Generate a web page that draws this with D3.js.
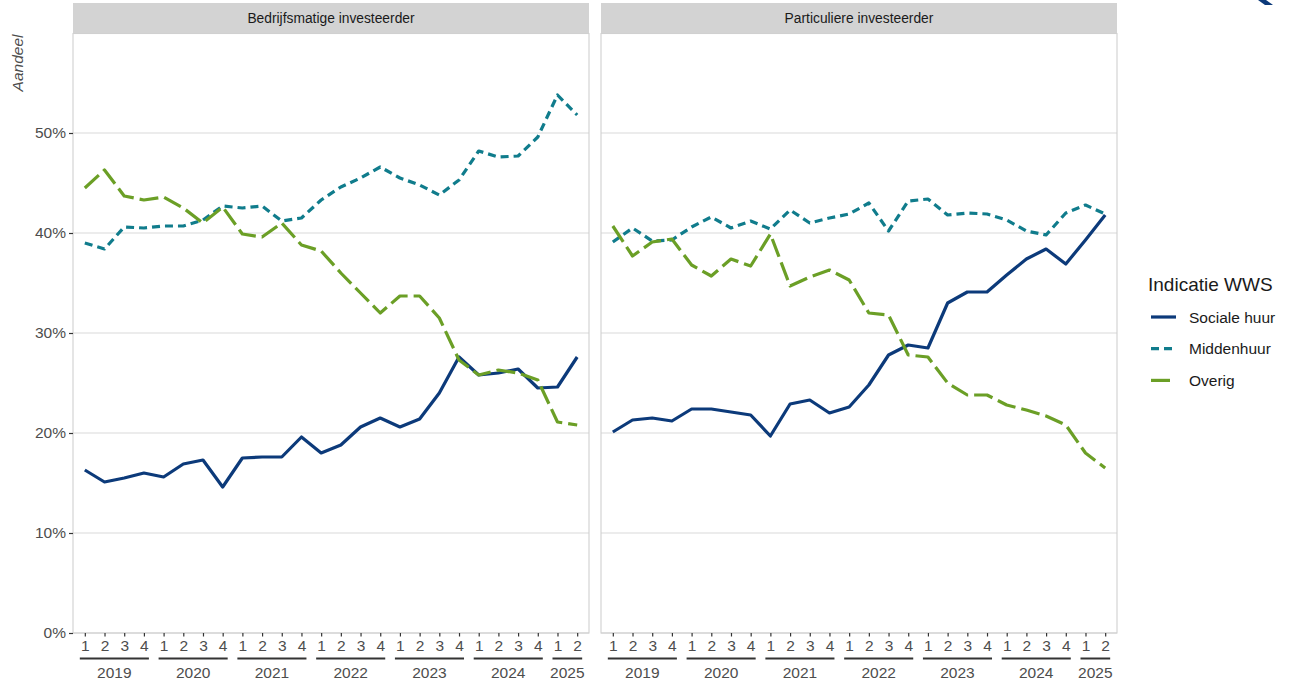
<!DOCTYPE html>
<html>
<head>
<meta charset="utf-8">
<script src="https://cdn.jsdelivr.net/npm/d3@7"></script>
<style>
  html, body { margin: 0; padding: 0; background: #fff; }
  svg { display: block; font-family: "Liberation Sans", Arial, sans-serif; }
</style>
</head>
<body>
<svg id="chart" width="1299" height="690"></svg>
<script>
// kwartalen 2019 Q1 t/m 2025 Q2
const PERIODS = [
  "2019-1", "2019-2", "2019-3", "2019-4",
  "2020-1", "2020-2", "2020-3", "2020-4",
  "2021-1", "2021-2", "2021-3", "2021-4",
  "2022-1", "2022-2", "2022-3", "2022-4",
  "2023-1", "2023-2", "2023-3", "2023-4",
  "2024-1", "2024-2", "2024-3", "2024-4",
  "2025-1", "2025-2"
];
const YEARS = ["2019", "2020", "2021", "2022", "2023", "2024", "2025"];
const PANELS = ["Bedrijfsmatige investeerder", "Particuliere investeerder"];
const SERIES = ["Sociale huur", "Middenhuur", "Overig"];
const Y_TICKS = [0, 0.1, 0.2, 0.3, 0.4, 0.5];

const bedrijfSociaal = [16.3, 15.1, 15.5, 16.0, 15.6, 16.9, 17.3, 14.6, 17.5, 17.6, 17.6, 19.6, 18.0,
  18.8, 20.6, 21.5, 20.6, 21.4, 24.0, 27.6, 25.8, 26.0, 26.4, 24.5, 24.6, 27.6];
const bedrijfMidden = [39.0, 38.4, 40.6, 40.5, 40.7, 40.7, 41.3, 42.7, 42.5, 42.7, 41.2, 41.5, 43.3,
  44.6, 45.5, 46.6, 45.5, 44.8, 43.8, 45.3, 48.2, 47.6, 47.7, 49.6, 53.8, 51.8];
const bedrijfOverig = [44.5, 46.3, 43.7, 43.3, 43.6, 42.5, 41.0, 42.6, 39.9, 39.6, 41.0, 38.8, 38.2,
  36.0, 34.0, 32.0, 33.7, 33.7, 31.5, 27.3, 25.8, 26.3, 26.0, 25.3, 21.1, 20.8];

const partSociaal = [20.1, 21.3, 21.5, 21.2, 22.4, 22.4, 22.1, 21.8, 19.7, 22.9, 23.3, 22.0, 22.6,
  24.8, 27.8, 28.8, 28.5, 33.0, 34.1, 34.1, 35.8, 37.4, 38.4, 36.9, 39.3, 41.8];
const partMidden = [39.1, 40.5, 39.2, 39.3, 40.6, 41.6, 40.5, 41.2, 40.4, 42.3, 41.0, 41.5, 41.9,
  43.0, 40.2, 43.2, 43.4, 41.8, 42.0, 41.9, 41.3, 40.2, 39.8, 42.0, 42.8, 41.9];
const partOverig = [40.7, 37.7, 39.1, 39.4, 36.8, 35.7, 37.4, 36.7, 39.9, 34.7, 35.6, 36.3, 35.3,
  32.0, 31.8, 27.8, 27.6, 25.0, 23.8, 23.8, 22.8, 22.3, 21.7, 20.8, 18.0, 16.5];

const panelData = [
  [bedrijfSociaal, bedrijfMidden, bedrijfOverig],
  [partSociaal, partMidden, partOverig]
];

const STYLE = {
  "Sociale huur": { color: "#0c3a7a", dash: null },
  "Middenhuur":   { color: "#107c8c", dash: "8,5" },
  "Overig":       { color: "#6b9f26", dash: "19,6" }
};

const svg = d3.select("#chart");
const PANEL_X = [[73, 589], [601, 1117]];
const STRIP_TOP = 3, PLOT_TOP = 33.5, PLOT_BOTTOM = 633;
const GRID = "#d9d9d9", AXIS_TEXT = "#4d4d4d";

const y = d3.scaleLinear().domain([0, 0.6]).range([PLOT_BOTTOM, 33]);

PANELS.forEach((name, p) => {
  const [x0, x1] = PANEL_X[p];
  const x = d3.scalePoint().domain(PERIODS).range([x0, x1]).padding(0.6);
  const g = svg.append("g");

  // strip
  g.append("rect")
    .attr("x", x0).attr("y", STRIP_TOP)
    .attr("width", x1 - x0).attr("height", PLOT_TOP - STRIP_TOP)
    .attr("fill", "#d3d3d3");
  g.append("text")
    .attr("x", (x0 + x1) / 2).attr("y", (STRIP_TOP + PLOT_TOP) / 2)
    .attr("text-anchor", "middle").attr("dominant-baseline", "central")
    .attr("font-size", "13.8px").attr("fill", "#1a1a1a")
    .text(name);

  // gridlines
  g.selectAll(".grid").data(Y_TICKS).join("line")
    .attr("x1", x0).attr("x2", x1)
    .attr("y1", d => y(d)).attr("y2", d => y(d))
    .attr("stroke", GRID).attr("stroke-width", 1.1);

  // panel border
  g.append("rect")
    .attr("x", x0).attr("y", PLOT_TOP)
    .attr("width", x1 - x0).attr("height", PLOT_BOTTOM - PLOT_TOP)
    .attr("fill", "none").attr("stroke", "#d0d0d0").attr("stroke-width", 1.1);

  // lines
  const line = d3.line().x((d, i) => x(PERIODS[i])).y(d => y(d / 100));
  SERIES.forEach((s, k) => {
    g.append("path")
      .datum(panelData[p][k])
      .attr("d", line)
      .attr("fill", "none")
      .attr("stroke", STYLE[s].color)
      .attr("stroke-width", 3.2)
      .attr("stroke-linejoin", "round")
      .attr("stroke-dasharray", STYLE[s].dash);
  });

  // x axis: kwartaalnummers
  const xa = g.append("g").attr("transform", `translate(0,${PLOT_BOTTOM})`)
    .call(d3.axisBottom(x).tickSize(3.5).tickPadding(3).tickFormat(d => d.split("-")[1]));
  xa.select(".domain").remove();
  xa.selectAll(".tick line").attr("stroke", "#333").attr("stroke-width", 1.2);
  xa.selectAll(".tick text").attr("fill", AXIS_TEXT).attr("font-size", "15.5px")
    .attr("font-family", "Liberation Sans, Arial, sans-serif");

  // jaargroepen
  YEARS.forEach(yr => {
    const qs = PERIODS.filter(q => q.startsWith(yr));
    const a = x(qs[0]) - 5, b = x(qs[qs.length - 1]) + 5;
    g.append("line")
      .attr("x1", a).attr("x2", b).attr("y1", 658.5).attr("y2", 658.5)
      .attr("stroke", "#333").attr("stroke-width", 2);
    g.append("text")
      .attr("x", (a + b) / 2).attr("y", 672)
      .attr("text-anchor", "middle").attr("dominant-baseline", "central")
      .attr("font-size", "15.5px").attr("fill", AXIS_TEXT)
      .text(yr);
  });

  // y axis alleen links
  if (p === 0) {
    const ya = g.append("g").attr("transform", `translate(${x0},0)`)
      .call(d3.axisLeft(y).tickValues(Y_TICKS).tickSize(4).tickPadding(3).tickFormat(d3.format(".0%")));
    ya.select(".domain").remove();
    ya.selectAll(".tick line").attr("stroke", "#333").attr("stroke-width", 1.2);
    ya.selectAll(".tick text").attr("fill", AXIS_TEXT).attr("font-size", "15.5px")
      .attr("font-family", "Liberation Sans, Arial, sans-serif");
  }
});

// y titel
svg.append("text")
  .attr("transform", "translate(17,63) rotate(-90)")
  .attr("text-anchor", "middle").attr("dominant-baseline", "central")
  .attr("font-size", "15.5px").attr("font-style", "italic").attr("fill", AXIS_TEXT)
  .text("Aandeel");

// legenda
const lg = svg.append("g");
lg.append("text")
  .attr("x", 1148).attr("y", 284)
  .attr("dominant-baseline", "central")
  .attr("font-size", "19px").attr("fill", "#1a1a1a")
  .text("Indicatie WWS");
SERIES.forEach((s, i) => {
  const yy = 317 + i * 31.7;
  lg.append("line")
    .attr("x1", 1151).attr("x2", 1176).attr("y1", yy).attr("y2", yy)
    .attr("stroke", STYLE[s].color).attr("stroke-width", 3.2)
    .attr("stroke-dasharray", STYLE[s].dash);
  lg.append("text")
    .attr("x", 1189).attr("y", yy)
    .attr("dominant-baseline", "central")
    .attr("font-size", "15.5px").attr("fill", "#1a1a1a")
    .text(s);
});

// stukje logo rechtsboven
svg.append("path")
  .attr("d", "M1258,0 L1266,0 L1273,5 L1265,5 Z")
  .attr("fill", "#0c3a7a");
</script>
</body>
</html>
